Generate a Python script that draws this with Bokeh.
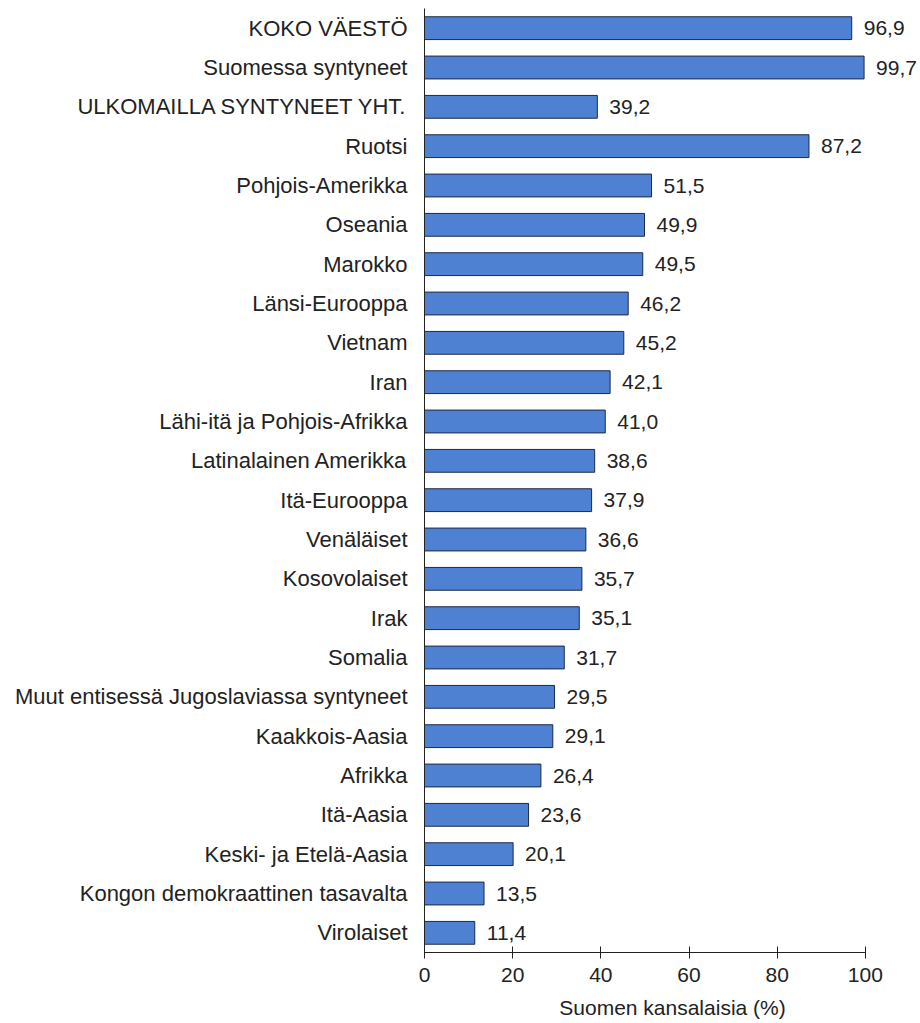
from bokeh.plotting import figure
from bokeh.models import ColumnDataSource, FactorRange, Range1d, FixedTicker
from bokeh.embed import file_html
from bokeh.resources import INLINE
from bokeh.core.properties import value

categories = [
    "KOKO VÄESTÖ", "Suomessa syntyneet", "ULKOMAILLA SYNTYNEET YHT.", "Ruotsi",
    "Pohjois-Amerikka", "Oseania", "Marokko", "Länsi-Eurooppa", "Vietnam", "Iran",
    "Lähi-itä ja Pohjois-Afrikka", "Latinalainen Amerikka", "Itä-Eurooppa",
    "Venäläiset", "Kosovolaiset", "Irak", "Somalia",
    "Muut entisessä Jugoslaviassa syntyneet", "Kaakkois-Aasia", "Afrikka",
    "Itä-Aasia", "Keski- ja Etelä-Aasia", "Kongon demokraattinen tasavalta",
    "Virolaiset",
]
values = [96.9, 99.7, 39.2, 87.2, 51.5, 49.9, 49.5, 46.2, 45.2, 42.1, 41.0, 38.6,
          37.9, 36.6, 35.7, 35.1, 31.7, 29.5, 29.1, 26.4, 23.6, 20.1, 13.5, 11.4]
x_ticks = [0, 20, 40, 60, 80, 100]
x_title = "Suomen kansalaisia (%)"

labels = [f"{v:.1f}".replace(".", ",") for v in values]
src = ColumnDataSource(dict(cat=categories, val=values, lab=labels))

FONT = "Liberation Sans"
FS = "21px"

p = figure(
    y_range=FactorRange(factors=list(reversed(categories)), range_padding=0),
    x_range=Range1d(0, 112.5),
    output_backend="svg", toolbar_location=None,
    min_border_left=424, min_border_right=0, min_border_top=8, min_border_bottom=0,
    frame_width=496, frame_height=944,
)
p.hbar(y="cat", right="val", left=0, height=0.58, source=src,
       fill_color="#4f81d3", line_color="#1c2a44", line_width=1)
p.text(x="val", y="cat", text="lab", source=src, x_offset=12,
       text_baseline="middle", text_align="left", text_font_size=FS,
       text_font=value(FONT), text_color="#222222")

p.outline_line_color = None
p.xgrid.grid_line_color = None
p.ygrid.grid_line_color = None

xa = p.xaxis[0]
xa.ticker = FixedTicker(ticks=x_ticks)
xa.bounds = (0, 100)
xa.axis_label = x_title
xa.axis_label_text_font = FONT
xa.axis_label_text_font_size = FS
xa.axis_label_text_font_style = "normal"
xa.axis_label_text_color = "#222222"
xa.axis_label_standoff = 11
xa.major_label_text_font = FONT
xa.major_label_text_font_size = FS
xa.major_label_text_color = "#222222"
xa.major_tick_in = 6
xa.major_tick_out = 6
xa.minor_tick_line_color = None
xa.axis_line_color = "#222222"
xa.major_tick_line_color = "#222222"
xa.major_label_standoff = 9

ya = p.yaxis[0]
ya.major_tick_line_color = None
ya.minor_tick_line_color = None
ya.major_tick_out = 0
ya.major_tick_in = 0
ya.major_label_standoff = 17
ya.major_label_text_font = FONT
ya.major_label_text_font_size = "22px"
ya.major_label_text_color = "#222222"
ya.axis_line_color = "#222222"

open("out.html", "w").write(file_html(p, INLINE))
